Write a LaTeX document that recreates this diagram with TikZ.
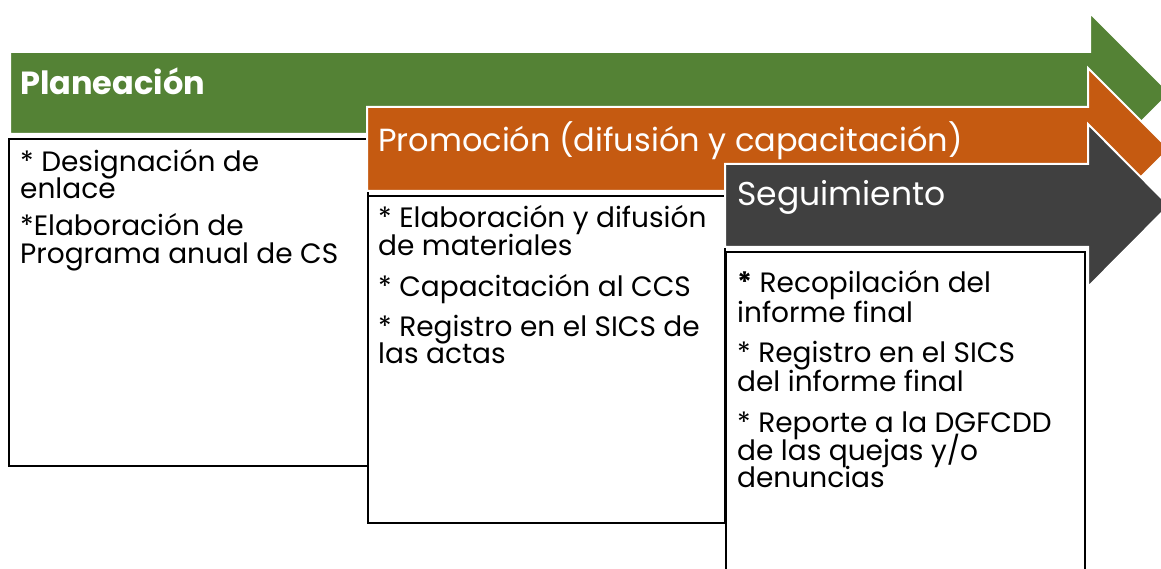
\documentclass[tikz,border=0pt]{standalone}
\usepackage{fontspec}
\setmainfont{Poppins}
\definecolor{pgreen}{HTML}{548235}
\definecolor{porange}{HTML}{C55A11}
\definecolor{pdark}{HTML}{404040}
\begin{document}
\begin{tikzpicture}[x=1pt,y=-1pt,
  arrowshape/.style={draw=white,line width=2pt,line join=miter},
  box/.style={draw=black,line width=2.4pt,fill=white,anchor=north west,inner sep=0pt},
  title/.style={anchor=base west,text=white,inner sep=0pt,font=\fontsize{32}{32}\selectfont},
  body/.style={anchor=base west,inner sep=0pt,font=\fontsize{28}{28}\selectfont}]
\clip (0,0) rectangle (1161,569);
\fill[white] (0,0) rectangle (1161,569);
% green arrow
\filldraw[arrowshape,fill=pgreen] (10,52) -- (1090,52) -- (1090,13) -- (1170,93) -- (1090,173) -- (1090,134) -- (10,134) -- cycle;
\node[title,font=\fontsize{32}{32}\selectfont\bfseries] (tplan) at (20,95) {Planeación};
\node[box,minimum width=359pt,minimum height=327pt] (b1) at (8,138) {};
\node[body] (l11) at (20,172) {* Designación de};
\node[body] (l12) at (20,199) {enlace};
\node[body] (l13) at (20,236) {*Elaboración de};
\node[body] (l14) at (20,264) {Programa anual de CS};
% orange arrow
\filldraw[arrowshape,fill=porange] (367,107) -- (1088,107) -- (1088,68) -- (1169,149) -- (1088,230) -- (1088,191) -- (367,191) -- cycle;
\node[title] (tprom) at (378,152) {Promoción (difusión y capacitación)};
\node[box,minimum width=357pt,minimum height=327pt] (b2) at (367,195) {};
\node[body] (l21) at (378,228) {* Elaboración y difusión};
\node[body] (l22) at (378,256) {de materiales};
\node[body] (l23) at (378,296) {* Capacitación al CCS};
\node[body] (l24) at (378,336) {* Registro en el SICS de};
\node[body] (l25) at (378,363) {las actas};
% dark arrow
\filldraw[arrowshape,fill=pdark] (725,164) -- (1088,164) -- (1088,124) -- (1169,205.5) -- (1088,287) -- (1088,247) -- (725,247) -- cycle;
\node[title,font=\fontsize{33}{33}\selectfont] (tseg) at (737,206) {Seguimiento};
\node[box,minimum width=359pt,minimum height=360pt] (b3) at (725,251) {};
\node[body] (l31) at (737,292) {\textbf{*} Recopilación del};
\node[body] (l32) at (737,322) {informe final};
\node[body] (l33) at (737,362) {* Registro en el SICS};
\node[body] (l34) at (737,391) {del informe final};
\node[body] (l35) at (737,432) {* Reporte a la DGFCDD};
\node[body] (l36) at (737,460) {de las quejas y/o};
\node[body] (l37) at (737,487) {denuncias};
\end{tikzpicture}
\end{document}
